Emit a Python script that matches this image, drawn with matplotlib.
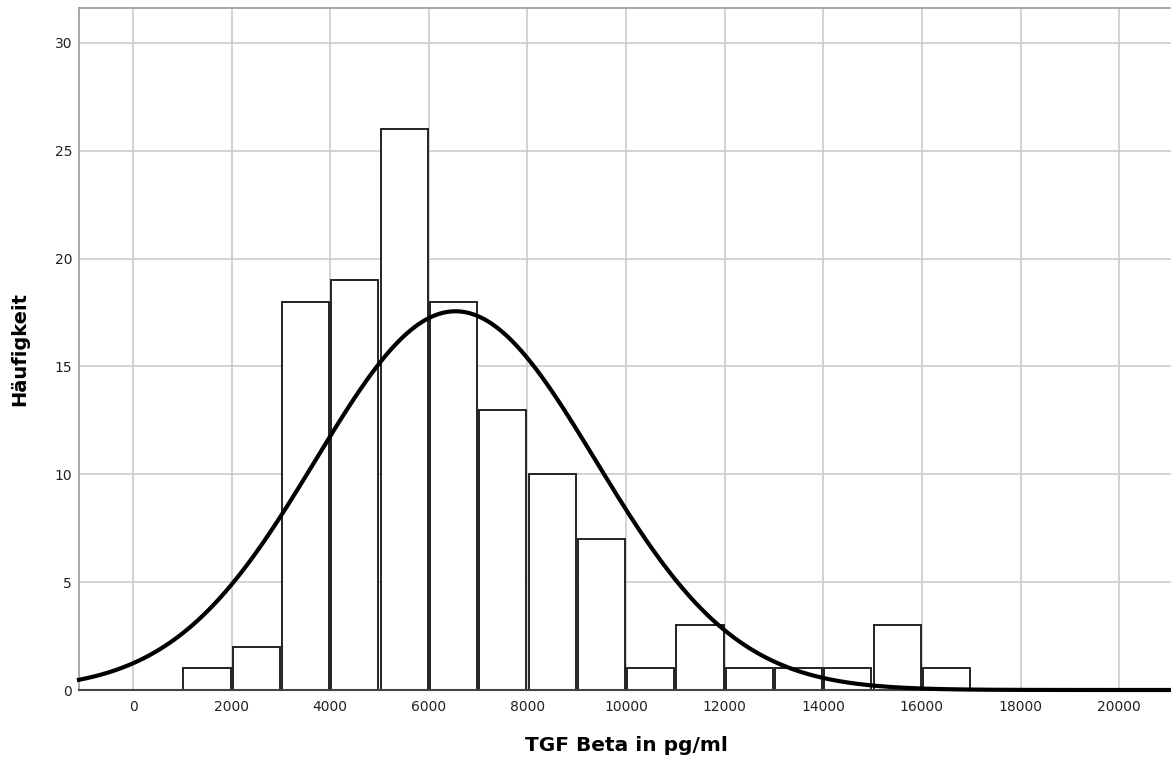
import numpy as np
import matplotlib
matplotlib.use("Agg")
import matplotlib.pyplot as plt

plt.rcParams['font.family'] = ['DejaVu Sans']

# Histogram data (bin left edges, counts), bin width 1000
bin_left = [1000, 2000, 3000, 4000, 5000, 6000, 7000, 8000, 9000, 10000,
            11000, 12000, 13000, 14000, 15000, 16000]
counts = [1, 2, 18, 19, 26, 18, 13, 10, 7, 1, 3, 1, 1, 1, 3, 1]
bin_width = 1000

# Normal curve parameters
mean_val = 6540
sd_val = 2840

x_ticks = [0, 2000, 4000, 6000, 8000, 10000, 12000, 14000, 16000, 18000, 20000]
y_ticks = [0, 5, 10, 15, 20, 25, 30]

fig = plt.figure(figsize=(11.71, 7.64), dpi=100)
ax = fig.add_axes([79/1171, 74/764, 1 - 79/1171 + 0.002, (690-8)/764])

ax.set_xlim(-1096, 21100)
ax.set_ylim(0, 31.62)

ax.set_axisbelow(True)
ax.grid(True, color="#cccccc", linewidth=1.2)

centers = [b + bin_width/2 for b in bin_left]
ax.bar(centers, counts, width=bin_width*0.955, facecolor="white",
       edgecolor="#222222", linewidth=1.4, zorder=2)

n_total = sum(counts)
xs = np.linspace(-1096, 21100, 600)
ys = n_total * bin_width / (sd_val*np.sqrt(2*np.pi)) * np.exp(-0.5*((xs-mean_val)/sd_val)**2)
ax.plot(xs, ys, color="black", linewidth=3, zorder=3, clip_on=False)

ax.set_xticks(x_ticks)
ax.set_xticklabels([str(t) for t in x_ticks])
ax.set_yticks(y_ticks)
ax.tick_params(axis="both", length=0, labelsize=10, colors="#222222")
ax.tick_params(axis="x", pad=7)
ax.tick_params(axis="y", pad=5)

for s in ["left", "top", "right"]:
    ax.spines[s].set_color("#999999")
    ax.spines[s].set_linewidth(1.2)
ax.spines["bottom"].set_color("#444444")
ax.spines["bottom"].set_linewidth(1.5)

ax.set_xlabel("TGF Beta in pg/ml", fontsize=14.5, fontweight="bold", labelpad=16)
ax.set_ylabel("Häufigkeit", fontsize=14, fontweight="bold", labelpad=18)

fig.savefig("out.png", dpi=100)
